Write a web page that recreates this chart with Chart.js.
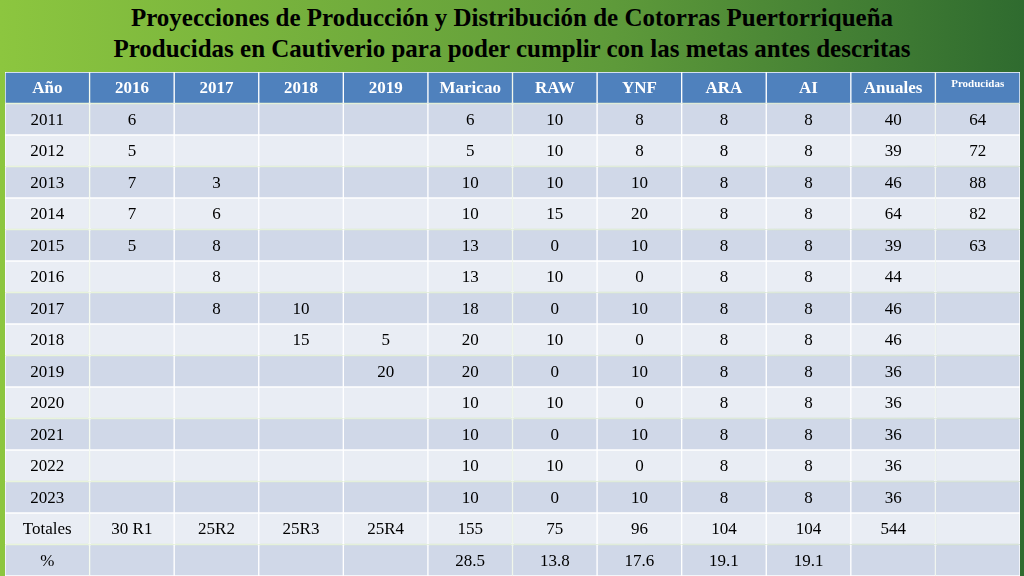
<!DOCTYPE html>
<html><head><meta charset="utf-8">
<script src="https://cdn.jsdelivr.net/npm/chart.js@4"></script>
<style>
html,body{margin:0;padding:0;width:1024px;height:576px;overflow:hidden;background:linear-gradient(90deg,#8cc63f 0%,#5e9a3a 60%,#2f6b2f 100%);}
#t{position:absolute;left:0;top:2px;width:1024px;text-align:center;font:bold 25px "Liberation Serif",serif;line-height:31px;color:#000;}
#w{position:absolute;left:0;top:0;width:1024px;height:576px;}
</style></head><body>
<div id="t">Proyecciones de Producción y Distribución de Cotorras Puertorriqueña<br>Producidas en Cautiverio para poder cumplir con las metas antes descritas</div>
<div id="w"><canvas id="c"></canvas></div>
<script>
const headers=['Año','2016','2017','2018','2019','Maricao','RAW','YNF','ARA','AI','Anuales','Producidas'];
const years=['2011','2012','2013','2014','2015','2016','2017','2018','2019','2020','2021','2022','2023','Totales','%'];
const c2016=['6','5','7','7','5','','','','','','','','','30 R1',''];
const c2017=['','','3','6','8','8','8','','','','','','','25R2',''];
const c2018=['','','','','','','10','15','','','','','','25R3',''];
const c2019=['','','','','','','','5','20','','','','','25R4',''];
const maricao=['6','5','10','10','13','13','18','20','20','10','10','10','10','155','28.5'];
const raw=['10','10','10','15','0','10','0','10','0','10','0','10','0','75','13.8'];
const ynf=['8','8','10','20','10','0','10','0','10','0','10','0','10','96','17.6'];
const ara=['8','8','8','8','8','8','8','8','8','8','8','8','8','104','19.1'];
const ai=['8','8','8','8','8','8','8','8','8','8','8','8','8','104','19.1'];
const anuales=['40','39','46','64','39','44','46','46','36','36','36','36','36','544',''];
const producidas=['64','72','88','82','63','','','','','','','','','',''];
const cols=[years,c2016,c2017,c2018,c2019,maricao,raw,ynf,ara,ai,anuales,producidas];
const rows=['hdr'].concat(years);
const rowColors=rows.map((r,i)=>i===0?'#4f81bd':(i%2===1?'#d0d8e8':'#e9edf4'));
const datasets=headers.map((h,j)=>({label:h,data:rows.map(()=>1),backgroundColor:rowColors,borderColor:'#ffffff',borderWidth:1,borderSkipped:false}));
const textPlugin={id:'txt',afterDatasetsDraw(ch){
 const ctx=ch.ctx,xs=ch.scales.x,ys=ch.scales.y;
 ctx.save();ctx.textAlign='center';ctx.textBaseline='middle';
 rows.forEach((r,i)=>{
  const y=ys.getPixelForValue(i)+1;
  headers.forEach((h,j)=>{
   const x=xs.getPixelForValue(j+0.5);
   let s;
   if(i===0){s=h;ctx.fillStyle='#ffffff';ctx.font=(j===11?'bold 11px':'bold 17px')+' "Liberation Serif",serif';}
   else{s=cols[j][i-1];ctx.fillStyle='#000';ctx.font='17px "Liberation Serif",serif';}
   ctx.fillText(s,x,i===0&&j===11?y-5:y);
  });
 });
 ctx.restore();}};
new Chart(document.getElementById('c'),{type:'bar',
 data:{labels:rows,datasets},
 options:{indexAxis:'y',responsive:true,maintainAspectRatio:false,animation:false,
  layout:{padding:{left:5,right:4,top:72,bottom:0}},
  datasets:{bar:{barPercentage:1,categoryPercentage:1}},
  plugins:{legend:{display:false},tooltip:{enabled:false},title:{display:false}},
  scales:{x:{type:'linear',stacked:true,min:0,max:12,display:false},
   y:{stacked:true,display:false,offset:true}}},
 plugins:[textPlugin]});
</script></body></html>
